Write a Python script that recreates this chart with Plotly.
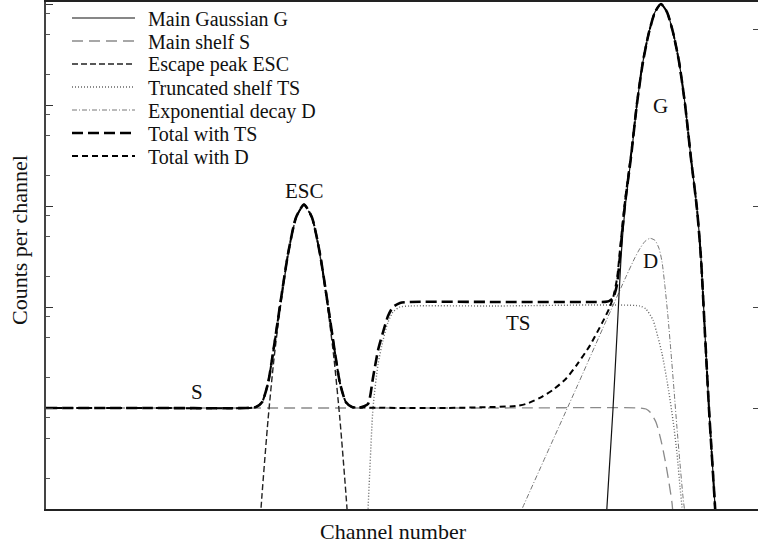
import numpy as np
import plotly.graph_objects as go

# ---------------- data (channel number, log10 counts) -------------
s_ch = [0, 150, 300, 450, 594, 600, 604, 610, 615, 619, 623, 626, 629]
s_log = [1.0, 1.0, 1.0, 1.0, 1.0, 0.99, 0.96, 0.86, 0.68, 0.49, 0.26, 0.06, -0.31]

esc_ch = [210, 216, 222, 228, 234, 242, 250, 258, 266, 274, 282, 288, 294, 300, 306]
esc_log = [-0.70, 0.14, 0.88, 1.49, 1.97, 2.51, 2.88, 3.01, 2.88, 2.51, 1.97, 1.49, 0.88, 0.14, -0.70]

ts_ch = [319, 322, 327, 332, 337, 342, 347, 354, 364, 450, 594, 600, 607, 612, 616, 622, 627, 631, 634, 636, 639]
ts_log = [-0.5, 0.0, 1.0, 1.43, 1.67, 1.85, 1.95, 2.0, 2.01, 2.01, 2.01, 1.98, 1.87, 1.70, 1.54, 1.21, 0.88, 0.55, 0.22, 0.02, -0.4]

d_ch = [440, 476, 500, 530, 560, 580, 589, 594, 599, 604, 609, 613, 616, 619, 622, 625, 628, 631, 634, 637, 639, 642]
d_log = [-0.80, 0.0, 0.53, 1.19, 1.86, 2.30, 2.49, 2.58, 2.65, 2.68, 2.66, 2.58, 2.45, 2.20, 1.90, 1.55, 1.18, 0.80, 0.45, 0.12, -0.05, -0.40]

g_ch = [553, 559, 563, 567, 571, 575, 579, 585, 591, 597, 603, 609, 615,
        621, 627, 633, 639, 645, 651, 655, 659, 663, 667, 671, 677]
g_log = [-1.34, -0.30, 0.35, 0.99, 1.73, 2.48, 2.97, 3.47, 4.01, 4.43, 4.72, 4.92, 5.0,
         4.92, 4.72, 4.43, 4.01, 3.47, 2.97, 2.48, 1.73, 0.99, 0.35, -0.30, -1.34]

tt_ch = [0, 100, 200, 210, 216, 222, 228, 234, 242, 250, 258, 266, 274, 282, 288, 294, 300, 306,
         314, 322, 327, 332, 337, 342, 347, 354, 364, 450,
         553, 559, 563, 567, 571, 575, 579, 585, 591, 597, 603, 609, 615,
         621, 627, 633, 639, 645, 651, 655, 659, 663, 667, 671, 677]
tt_log = [1.0, 1.0, 1.0, 1.01, 1.056, 1.245, 1.61, 2.014, 2.524, 2.886, 3.014, 2.886, 2.524, 2.014, 1.61, 1.245, 1.056, 1.01,
          1.005, 1.04, 1.30, 1.57, 1.75, 1.91, 2.0, 2.04, 2.05, 2.05,
          2.05, 2.051, 2.058, 2.086, 2.22, 2.617, 3.02, 3.486, 4.015, 4.43, 4.72, 4.92, 5.0,
          4.92, 4.72, 4.43, 4.01, 3.47, 2.97, 2.48, 1.73, 0.99, 0.35, -0.30, -1.34]

td_ch = [0, 100, 200, 210, 216, 222, 228, 234, 242, 250, 258, 266, 274, 282, 288, 294, 300, 306,
         314, 400, 470, 480, 494, 507, 520, 531, 544, 556, 563, 567, 571, 575, 579, 585, 591, 597, 603, 609, 615,
         621, 627, 633, 639, 645, 651, 655, 659, 663, 667, 671, 677]
td_log = [1.0, 1.0, 1.0, 1.01, 1.056, 1.245, 1.61, 2.014, 2.524, 2.886, 3.014, 2.886, 2.524, 2.014, 1.61, 1.245, 1.056, 1.01,
          1.005, 1.0, 1.02, 1.04, 1.10, 1.18, 1.29, 1.43, 1.62, 1.84, 1.98, 2.09, 2.28, 2.67, 3.05, 3.51, 4.02, 4.44, 4.72, 4.92, 5.0,
          4.92, 4.72, 4.43, 4.01, 3.47, 2.97, 2.48, 1.73, 0.99, 0.35, -0.30, -1.34]

series_names = ["Main Gaussian G", "Main shelf S", "Escape peak ESC", "Truncated shelf TS",
                "Exponential decay D", "Total with TS", "Total with D"]
curve_labels = ["G", "ESC", "S", "TS", "D"]
x_title = "Channel number"
y_title = "Counts per channel"

left_major = [10, 100, 1000, 1e4, 1e5]
left_minor = [2, 5, 8, 20, 50, 80, 200, 500, 800, 2000, 5000, 8000, 20000, 50000, 80000]
right_ticks = [10, 100, 1000, 56000]

# ---------------- styles ----------------
FONT = "Liberation Serif, Times New Roman, serif"
styles = {
    "Main Gaussian G": dict(color="#111", width=1.2, dash="solid"),
    "Main shelf S": dict(color="#8a8a8a", width=1.3, dash="11px,6px"),
    "Escape peak ESC": dict(color="#222", width=1.4, dash="6px,3px"),
    "Truncated shelf TS": dict(color="#666", width=1.4, dash="1px,2px"),
    "Exponential decay D": dict(color="#777", width=1.0, dash="5px,2px,1px,2px"),
    "Total with TS": dict(color="#000", width=2.6, dash="11px,5px"),
    "Total with D": dict(color="#000", width=2.0, dash="6px,4px"),
}

def counts(a):
    return np.power(10.0, np.array(a, dtype=float))

fig = go.Figure()
order = [
    ("Main shelf S", s_ch, s_log),
    ("Escape peak ESC", esc_ch, esc_log),
    ("Truncated shelf TS", ts_ch, ts_log),
    ("Exponential decay D", d_ch, d_log),
    ("Main Gaussian G", g_ch, g_log),
    ("Total with D", td_ch, td_log),
    ("Total with TS", tt_ch, tt_log),
]
for name, xs, ls in order:
    fig.add_trace(go.Scatter(x=xs, y=counts(ls), mode="lines", name=name,
                             line=dict(shape="spline", smoothing=0.6, **styles[name]),
                             showlegend=False, hoverinfo="skip"))
# empty trace carrying the right-hand tick axis
fig.add_trace(go.Scatter(x=[], y=[], yaxis="y2", showlegend=False, hoverinfo="skip"))

# ---------------- geometry helpers (pixel -> paper) ----------------
L, R, T, B = 46, 758, 2, 509
def px(x):
    return (x - L) / (R - L)
def py(y):
    return (B - y) / (B - T)

shapes = []
annotations = []
rows = [18, 41, 64, 87, 110, 133, 156]
for name, ry in zip(series_names, rows):
    st = styles[name]
    shapes.append(dict(type="line", xref="paper", yref="paper",
                       x0=px(72), x1=px(135), y0=py(ry), y1=py(ry),
                       line=dict(color=st["color"], width=st["width"], dash=st["dash"])))
    annotations.append(dict(text=name, xref="paper", yref="paper", x=px(146), y=py(ry + 1),
                            xanchor="left", yanchor="middle", showarrow=False,
                            font=dict(family=FONT, size=20, color="#111")))

label_pos = {"G": (660, 106), "ESC": (304, 191), "S": (197, 392), "TS": (518, 323), "D": (650, 261)}
for lab in curve_labels:
    x0, y0 = label_pos[lab]
    annotations.append(dict(text=lab, xref="paper", yref="paper", x=px(x0), y=py(y0),
                            xanchor="center", yanchor="middle", showarrow=False,
                            font=dict(family=FONT, size=21, color="#111")))

annotations.append(dict(text=x_title, xref="paper", yref="paper", x=px(393), y=py(531),
                        xanchor="center", yanchor="middle", showarrow=False,
                        font=dict(family=FONT, size=22, color="#111")))
annotations.append(dict(text=y_title, xref="paper", yref="paper", x=px(20), y=py(240),
                        xanchor="center", yanchor="middle", showarrow=False, textangle=-90,
                        font=dict(family=FONT, size=22, color="#111")))

fig.update_layout(
    width=758, height=551, autosize=False,
    margin=dict(l=L, r=0, t=T, b=551 - B, pad=0),
    paper_bgcolor="white", plot_bgcolor="white",
    showlegend=False,
    shapes=shapes, annotations=annotations,
    xaxis=dict(range=[0, R - L], showline=True, linecolor="#222", linewidth=1.6, mirror=True,
               ticks="", showticklabels=False, showgrid=False, zeroline=False, fixedrange=True),
    yaxis=dict(type="log", range=[0, (B - T) / 101], showline=True, linecolor="#444", linewidth=2,
               ticks="inside", ticklen=7, tickwidth=1.2, tickcolor="#333",
               tickmode="array", tickvals=left_major, showticklabels=False,
               showgrid=False, zeroline=False, fixedrange=True,
               minor=dict(ticks="inside", ticklen=4, tickwidth=1, tickcolor="#555",
                          tickmode="array", tickvals=left_minor, showgrid=False)),
    yaxis2=dict(type="log", range=[0, (B - T) / 101], overlaying="y", side="right",
                showline=False, ticks="inside", ticklen=5, tickwidth=1.2, tickcolor="#444",
                tickmode="array", tickvals=right_ticks, showticklabels=False,
                showgrid=False, zeroline=False, fixedrange=True),
)

fig.write_html("out.html")
